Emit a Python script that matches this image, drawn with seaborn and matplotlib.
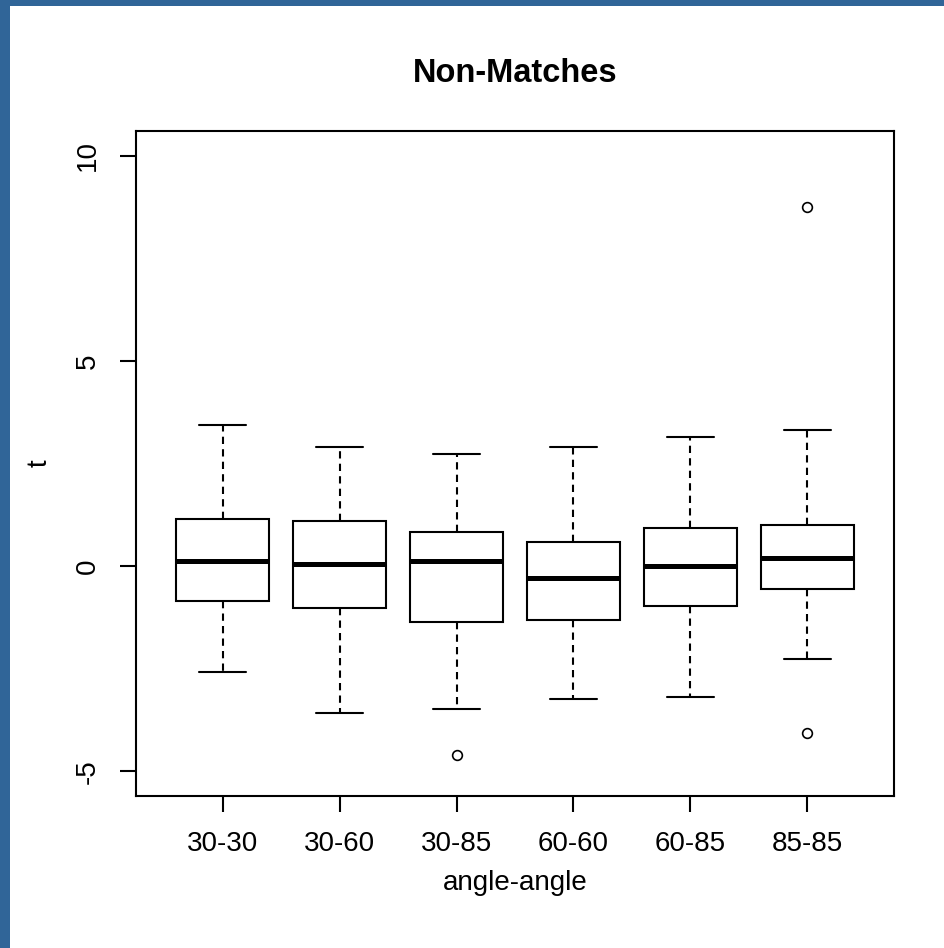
import matplotlib
matplotlib.use("Agg")
import matplotlib.pyplot as plt
import matplotlib.patches as mpatches
import numpy as np
import pandas as pd
import seaborn as sns

# ---- data ----
categories = ["30-30", "30-60", "30-85", "60-60", "60-85", "85-85"]
whisker_low = [-2.57, -3.57, -3.49, -3.23, -3.19, -2.27]
q1 = [-0.84, -1.01, -1.35, -1.31, -0.97, -0.55]
median = [0.12, 0.04, 0.12, -0.29, 0.00, 0.21]
q3 = [1.14, 1.09, 0.83, 0.58, 0.92, 1.00]
whisker_high = [3.44, 2.90, 2.73, 2.90, 3.15, 3.31]
outliers_low = [None, None, -4.60, None, None, -4.06]
outliers_high = [None, None, None, None, None, 8.76]
y_ticks = [-5, 0, 5, 10]

# Build a small sample per group whose quartiles / whiskers reproduce the stats
rows = []
for i, cat in enumerate(categories):
    lo_tail = outliers_low[i] if outliers_low[i] is not None else whisker_low[i]
    hi_tail = outliers_high[i] if outliers_high[i] is not None else whisker_high[i]
    vals = [lo_tail, whisker_low[i], q1[i], q1[i], median[i], q3[i], q3[i],
            whisker_high[i], hi_tail]
    for v in vals:
        rows.append({"angle-angle": cat, "t": v})
df = pd.DataFrame(rows)

sns.set_theme(style="white")
plt.rcParams["font.family"] = ["Liberation Sans", "DejaVu Sans"]

W, H = 944, 948
fig = plt.figure(figsize=(W / 100, H / 100), dpi=100)
fig.patch.set_facecolor("white")

# blue frame on left and top edges
fig.patches.append(mpatches.Rectangle((0, 0), 10 / W, 1, transform=fig.transFigure,
                                      facecolor="#306598", edgecolor="none", zorder=-1))
fig.patches.append(mpatches.Rectangle((0, 1 - 6 / H), 1, 6 / H, transform=fig.transFigure,
                                      facecolor="#306598", edgecolor="none", zorder=-1))

left, right, top, bottom = 136, 894, 131, 796
ax = fig.add_axes([left / W, 1 - bottom / H, (right - left) / W, (bottom - top) / H])
ax.set_facecolor("white")

lw = 1.5
sns.boxplot(data=df, x="angle-angle", y="t", order=categories, ax=ax,
            whis=(12.5, 87.5), width=0.8, color="white", linecolor="black",
            linewidth=lw, fill=True, saturation=1,
            boxprops=dict(facecolor="white", edgecolor="black", linewidth=lw),
            medianprops=dict(color="black", linewidth=3.6, solid_capstyle="butt"),
            whiskerprops=dict(color="black", linewidth=lw, linestyle=(0, (3.5, 2.5))),
            capprops=dict(color="black", linewidth=lw),
            flierprops=dict(marker="o", markersize=7, markerfacecolor="white",
                            markeredgecolor="black", markeredgewidth=1.2))

ax.set_xlim(-0.74, 5.74)
ax.set_ylim(-5.6, 10.6)
ax.set_yticks(y_ticks)
ax.set_yticklabels([str(v) for v in y_ticks])

for s in ax.spines.values():
    s.set_visible(True)
    s.set_color("black")
    s.set_linewidth(lw)

ax.tick_params(axis="both", which="both", direction="out", length=11.5, width=lw,
               color="black", labelsize=20, labelcolor="black",
               bottom=True, left=True, top=False, right=False)
ax.tick_params(axis="x", pad=14)
ax.tick_params(axis="y", pad=14, labelrotation=90)
for lab in ax.get_yticklabels():
    lab.set_va("center")

ax.set_xlabel("angle-angle", fontsize=20, color="black", labelpad=9)
ax.set_ylabel("t", fontsize=20, color="black", labelpad=16)
ax.set_title("Non-Matches", fontsize=23.5, fontweight="bold", color="black", pad=35)

fig.savefig("out.png", dpi=100, facecolor="white")
